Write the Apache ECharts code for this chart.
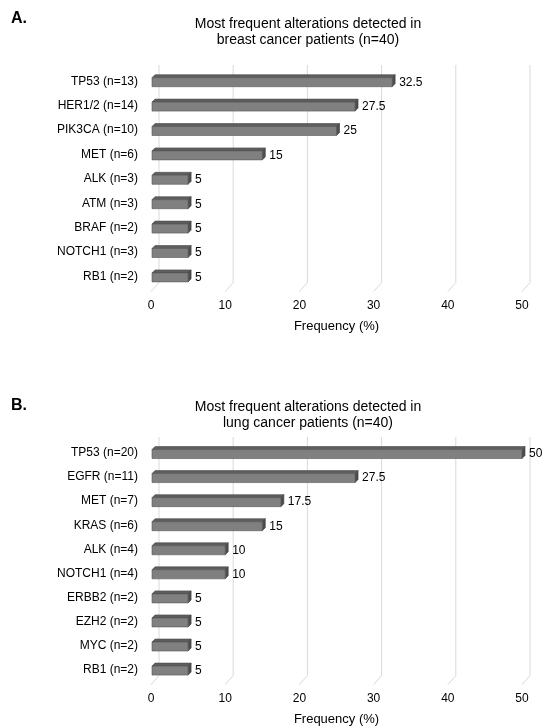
<!DOCTYPE html>
<html><head><meta charset="utf-8">
<script src="https://cdn.jsdelivr.net/npm/echarts@6/dist/echarts.min.js"></script>
<style>html,body{margin:0;padding:0;background:#fff}#c{width:549px;height:728px}</style>
</head><body><div id="c"></div>
<script>
// ---- data ----
const catsA = ['TP53 (n=13)','HER1/2 (n=14)','PIK3CA (n=10)','MET (n=6)','ALK (n=3)','ATM (n=3)','BRAF (n=2)','NOTCH1 (n=3)','RB1 (n=2)'];
const valsA = [32.5, 27.5, 25, 15, 5, 5, 5, 5, 5];
const catsB = ['TP53 (n=20)','EGFR (n=11)','MET (n=7)','KRAS (n=6)','ALK (n=4)','NOTCH1 (n=4)','ERBB2 (n=2)','EZH2 (n=2)','MYC (n=2)','RB1 (n=2)'];
const valsB = [50, 27.5, 17.5, 15, 10, 10, 5, 5, 5, 5];
const ticks = [0, 10, 20, 30, 40, 50];
const titleA = 'Most frequent alterations detected in\nbreast cancer patients (n=40)';
const titleB = 'Most frequent alterations detected in\nlung cancer patients (n=40)';
const axisName = 'Frequency (%)';

const FONT = 'Liberation Sans, Arial, sans-serif';
const DX = 8, DY = 9;

function wallRender(params, api) {
  const cs = params.coordSys;
  const x = api.coord([api.value(0), 0])[0];
  const top = cs.y - 4, bot = cs.y + cs.height;
  return {
    type: 'polyline',
    shape: { points: [[x + DX, top], [x + DX, bot - DY + 3], [x, bot + 3]] },
    style: { stroke: '#d9d9d9', lineWidth: 1, fill: null }
  };
}
function barRender(params, api) {
  const v = api.value(0), c = api.value(1);
  const p1 = api.coord([v, c]);
  const p0 = api.coord([0, c]);
  const x0 = p0[0] + 1, x1 = p1[0], yc = p1[1] + 1;
  const h = 9, d = 3;
  const yt = yc - 4.5, yb = yc + 4.5;
  return {
    type: 'group',
    children: [
      { type: 'polygon', shape: { points: [[x0, yt], [x0 + d, yt - d], [x1 + d, yt - d], [x1, yt]] },
        style: { fill: '#5e5e5e', stroke: '#4a4a4a', lineWidth: 0.6 } },
      { type: 'polygon', shape: { points: [[x1, yt], [x1 + d, yt - d], [x1 + d, yb - d], [x1, yb]] },
        style: { fill: '#4e4e4e', stroke: '#3e3e3e', lineWidth: 0.6 } },
      { type: 'rect', shape: { x: x0, y: yt, width: x1 - x0, height: h },
        style: { fill: '#808080', stroke: '#555555', lineWidth: 0.6 } },
      { type: 'text', style: { x: x1 + d + 4, y: yc, text: String(v), fill: '#000',
        font: '12px ' + FONT, verticalAlign: 'middle', align: 'left' } }
    ]
  };
}

function makeAxes(gi, cats) {
  return {
    x: { gridIndex: gi, type: 'value', min: 0, max: 50, interval: 10,
      axisLine: { show: false }, axisTick: { show: false }, splitLine: { show: false },
      axisLabel: { color: '#000', fontFamily: FONT, fontSize: 12, margin: 11 },
      name: axisName, nameLocation: 'middle', nameGap: 31,
      nameTextStyle: { color: '#000', fontFamily: FONT, fontSize: 13 } },
    y: { gridIndex: gi, type: 'category', data: cats, inverse: true,
      axisLine: { show: false }, axisTick: { show: false }, splitLine: { show: false },
      axisLabel: { color: '#000', fontFamily: FONT, fontSize: 12, margin: 13 } }
  };
}
const aA = makeAxes(0, catsA), aB = makeAxes(1, catsB);

const option = {
  animation: false,
  backgroundColor: '#fff',
  title: [
    { text: 'A.', left: 6, top: 6, textStyle: { fontFamily: FONT, fontSize: 16, fontWeight: 'bold', color: '#000' } },
    { text: titleA, left: 303, top: 11, textAlign: 'center',
      textStyle: { fontFamily: FONT, fontSize: 14, fontWeight: 'normal', color: '#000', lineHeight: 16 } },
    { text: 'B.', left: 6, top: 393, textStyle: { fontFamily: FONT, fontSize: 16, fontWeight: 'bold', color: '#000' } },
    { text: titleB, left: 303, top: 394, textAlign: 'center',
      textStyle: { fontFamily: FONT, fontSize: 14, fontWeight: 'normal', color: '#000', lineHeight: 16 } }
  ],
  grid: [
    { left: 151, width: 371, top: 69, height: 219.6 },
    { left: 151, width: 371, top: 441, height: 240.6 }
  ],
  xAxis: [aA.x, aB.x],
  yAxis: [aA.y, aB.y],
  series: [
    { type: 'custom', xAxisIndex: 0, yAxisIndex: 0, z: 1, silent: true,
      data: ticks.map(t => [t, 0]), renderItem: wallRender },
    { type: 'custom', xAxisIndex: 0, yAxisIndex: 0, z: 2,
      data: valsA.map((v, i) => [v, i]), renderItem: barRender },
    { type: 'custom', xAxisIndex: 1, yAxisIndex: 1, z: 1, silent: true,
      data: ticks.map(t => [t, 0]), renderItem: wallRender },
    { type: 'custom', xAxisIndex: 1, yAxisIndex: 1, z: 2,
      data: valsB.map((v, i) => [v, i]), renderItem: barRender }
  ]
};
echarts.init(document.getElementById('c'), null, { renderer: 'canvas' }).setOption(option);
</script></body></html>
